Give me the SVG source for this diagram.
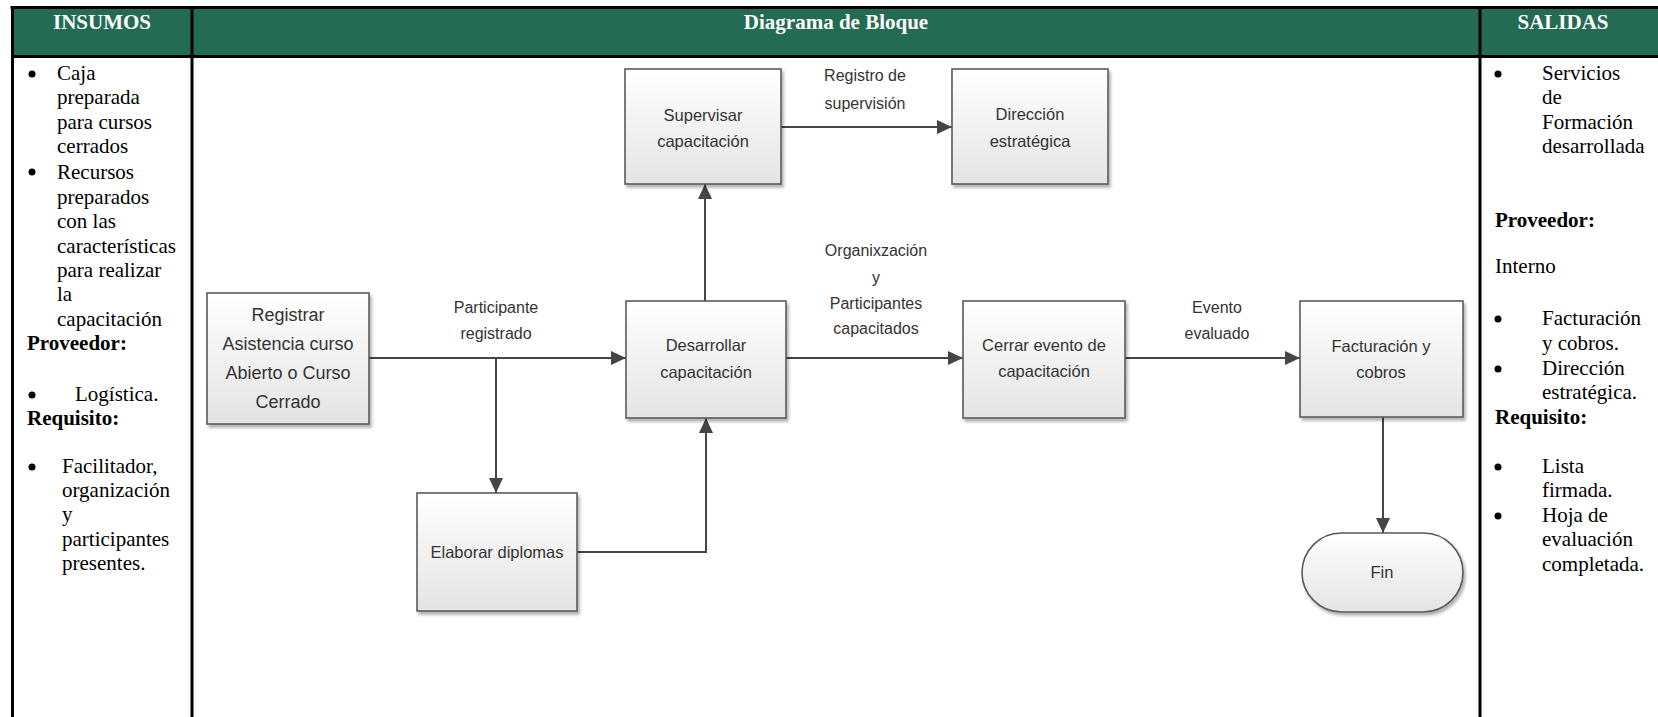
<svg xmlns="http://www.w3.org/2000/svg" width="1658" height="717" viewBox="0 0 1658 717">
  <style>
    .hdr { font-family: "Liberation Serif", "Times New Roman", serif; font-weight: bold; font-size: 21px; fill: #ffffff; text-anchor: middle; }
    .col { font-family: "Liberation Serif", "Times New Roman", serif; font-size: 21px; fill: #000000; }
    .col .b { font-weight: bold; }
    .rule { stroke: #000000; stroke-width: 3; fill: none; }
    .box { fill: url(#boxFill); stroke: #5a5a5a; stroke-width: 1.6; filter: url(#shadow); }
    .ntext { font-family: "Liberation Sans", Arial, sans-serif; font-size: 16.5px; fill: #333333; text-anchor: middle; }
    .ntext.big { font-size: 18px; }
    .lbl { font-family: "Liberation Sans", Arial, sans-serif; font-size: 16px; fill: #333333; text-anchor: middle; }
    .conn { stroke: #454545; stroke-width: 2; fill: none; marker-end: url(#arrow); }
  </style>
  <defs>
    <linearGradient id="boxFill" x1="0" y1="0" x2="0" y2="1">
      <stop offset="0" stop-color="#ffffff"/>
      <stop offset="1" stop-color="#e4e4e4"/>
    </linearGradient>
    <filter id="shadow" x="-10%" y="-10%" width="125%" height="130%">
      <feDropShadow dx="2" dy="3" stdDeviation="1.5" flood-color="#000000" flood-opacity="0.3"/>
    </filter>
    <marker id="arrow" markerUnits="userSpaceOnUse" markerWidth="16" markerHeight="14" refX="15" refY="7" orient="auto">
      <path d="M0,0 L15,7 L0,14 z" fill="#454545"/>
    </marker>
  </defs>

  <rect width="1658" height="717" fill="#ffffff"/>

  <!-- table header band and column rules -->
  <g id="table">
    <rect x="12" y="7" width="1646" height="50" fill="#246b54"/>
    <line class="rule" x1="10.5" y1="7.5" x2="1658" y2="7.5"/>
    <line class="rule" x1="12" y1="56.5" x2="1658" y2="56.5"/>
    <line class="rule" x1="12.5" y1="6" x2="12.5" y2="717"/>
    <line class="rule" x1="192" y1="6" x2="192" y2="717"/>
    <line class="rule" x1="1480" y1="6" x2="1480" y2="717"/>
    <text class="hdr" x="102" y="29">INSUMOS</text>
    <text class="hdr" x="836" y="29">Diagrama de Bloque</text>
    <text class="hdr" x="1563" y="29">SALIDAS</text>
  </g>

  <!-- inputs column -->
  <g id="insumos" class="col">
    <circle cx="32" cy="74" r="3.5"/>
    <text x="57" y="80">Caja</text>
    <text x="57" y="104">preparada</text>
    <text x="57" y="129">para cursos</text>
    <text x="57" y="153">cerrados</text>
    <circle cx="32" cy="172" r="3.5"/>
    <text x="57" y="179">Recursos</text>
    <text x="57" y="204">preparados</text>
    <text x="57" y="228">con las</text>
    <text x="57" y="253">características</text>
    <text x="57" y="277">para realizar</text>
    <text x="57" y="301">la</text>
    <text x="57" y="326">capacitación</text>
    <text class="b" x="27" y="350">Proveedor:</text>
    <circle cx="32" cy="395" r="3.5"/>
    <text x="75" y="401">Logística.</text>
    <text class="b" x="27" y="425">Requisito:</text>
    <circle cx="32" cy="467" r="3.5"/>
    <text x="62" y="473">Facilitador,</text>
    <text x="62" y="497">organización</text>
    <text x="62" y="521">y</text>
    <text x="62" y="546">participantes</text>
    <text x="62" y="570">presentes.</text>
  </g>

  <!-- outputs column -->
  <g id="salidas" class="col">
    <circle cx="1498" cy="74" r="3.5"/>
    <text x="1542" y="80">Servicios</text>
    <text x="1542" y="104">de</text>
    <text x="1542" y="129">Formación</text>
    <text x="1542" y="153">desarrollada</text>
    <text class="b" x="1495" y="227">Proveedor:</text>
    <text x="1495" y="273">Interno</text>
    <circle cx="1498" cy="319" r="3.5"/>
    <text x="1542" y="325">Facturación</text>
    <text x="1542" y="350">y cobros.</text>
    <circle cx="1498" cy="369" r="3.5"/>
    <text x="1542" y="375">Dirección</text>
    <text x="1542" y="399">estratégica.</text>
    <text class="b" x="1495" y="424">Requisito:</text>
    <circle cx="1498" cy="467" r="3.5"/>
    <text x="1542" y="473">Lista</text>
    <text x="1542" y="497">firmada.</text>
    <circle cx="1498" cy="516" r="3.5"/>
    <text x="1542" y="522">Hoja de</text>
    <text x="1542" y="546">evaluación</text>
    <text x="1542" y="571">completada.</text>
  </g>

  <!-- connectors -->
  <g id="connectors">
    <line class="conn" x1="369" y1="358" x2="626" y2="358"/>
    <line class="conn" x1="496" y1="358" x2="496" y2="493"/>
    <polyline class="conn" points="577,552 706,552 706,418"/>
    <line class="conn" x1="705" y1="301" x2="705" y2="184"/>
    <line class="conn" x1="781" y1="127" x2="952" y2="127"/>
    <line class="conn" x1="786" y1="358" x2="963" y2="358"/>
    <line class="conn" x1="1125" y1="358" x2="1300" y2="358"/>
    <line class="conn" x1="1383" y1="417" x2="1383" y2="533"/>
    <g id="connector-labels">
      <text class="lbl" x="865" y="81">Registro de</text>
      <text class="lbl" x="865" y="109">supervisión</text>
      <text class="lbl" x="496" y="313">Participante</text>
      <text class="lbl" x="496" y="339">registrado</text>
      <text class="lbl" x="876" y="256">Organixzación</text>
      <text class="lbl" x="876" y="283">y</text>
      <text class="lbl" x="876" y="309">Participantes</text>
      <text class="lbl" x="876" y="334">capacitados</text>
      <text class="lbl" x="1217" y="313">Evento</text>
      <text class="lbl" x="1217" y="339">evaluado</text>
    </g>
  </g>

  <!-- process nodes -->
  <g id="registrar">
    <rect class="box" x="207" y="293" width="162" height="131"/>
    <text class="ntext big" x="288" y="321">Registrar</text>
    <text class="ntext big" x="288" y="350">Asistencia curso</text>
    <text class="ntext big" x="288" y="379">Abierto o Curso</text>
    <text class="ntext big" x="288" y="408">Cerrado</text>
  </g>
  <g id="elaborar">
    <rect class="box" x="417" y="493" width="160" height="118"/>
    <text class="ntext" x="497" y="558">Elaborar diplomas</text>
  </g>
  <g id="desarrollar">
    <rect class="box" x="626" y="301" width="160" height="117"/>
    <text class="ntext" x="706" y="351">Desarrollar</text>
    <text class="ntext" x="706" y="378">capacitación</text>
  </g>
  <g id="supervisar">
    <rect class="box" x="625" y="69" width="156" height="115"/>
    <text class="ntext" x="703" y="121">Supervisar</text>
    <text class="ntext" x="703" y="147">capacitación</text>
  </g>
  <g id="direccion">
    <rect class="box" x="952" y="69" width="156" height="115"/>
    <text class="ntext" x="1030" y="120">Dirección</text>
    <text class="ntext" x="1030" y="147">estratégica</text>
  </g>
  <g id="cerrar">
    <rect class="box" x="963" y="301" width="162" height="117"/>
    <text class="ntext" x="1044" y="351">Cerrar evento de</text>
    <text class="ntext" x="1044" y="377">capacitación</text>
  </g>
  <g id="facturacion">
    <rect class="box" x="1300" y="301" width="163" height="116"/>
    <text class="ntext" x="1381" y="352">Facturación y</text>
    <text class="ntext" x="1381" y="378">cobros</text>
  </g>
  <g id="fin">
    <rect class="box" x="1302" y="533" width="161" height="79" rx="39.5" ry="39.5"/>
    <text class="ntext" x="1382" y="578">Fin</text>
  </g>
</svg>
